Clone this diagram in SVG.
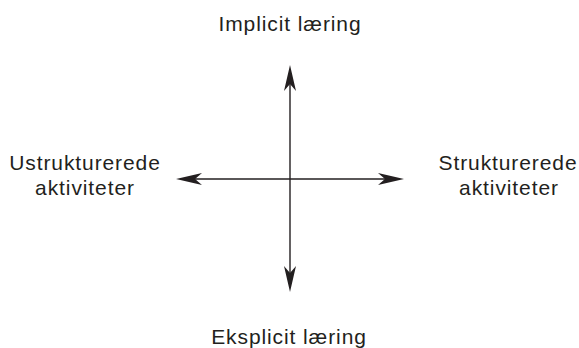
<svg xmlns="http://www.w3.org/2000/svg" width="579" height="348" viewBox="0 0 579 348">
<style>
text{font-family:"Liberation Sans",Arial,sans-serif;font-size:21px;fill:#231f20;text-anchor:middle;letter-spacing:0.9px}
.ax{stroke:#231f20;stroke-width:1.4;fill:none}
.ah{fill:#231f20}
</style>
<rect width="579" height="348" fill="#fff"/>
<g id="connectors">
<line class="ax" x1="290" y1="80" x2="290" y2="278"/>
<line class="ax" x1="190" y1="179" x2="390" y2="179"/>
<path id="arrow-up" class="ah" d="M290,65 L296,91 L290,84 L284,91 Z"/>
<path id="arrow-down" class="ah" d="M290,292 L296,266 L290,273 L284,266 Z"/>
<path id="arrow-left" class="ah" d="M176,179 L202,173 L195,179 L202,185 Z"/>
<path id="arrow-right" class="ah" d="M404,179 L378,173 L385,179 L378,185 Z"/>
</g>
<g id="node-top"><text x="290" y="31">Implicit læring</text></g>
<g id="node-bottom"><text x="289" y="344">Eksplicit læring</text></g>
<g id="node-left"><text x="85" y="170">Ustrukturerede</text><text x="85" y="195">aktiviteter</text></g>
<g id="node-right"><text x="508" y="170">Strukturerede</text><text x="509" y="195">aktiviteter</text></g>
</svg>
